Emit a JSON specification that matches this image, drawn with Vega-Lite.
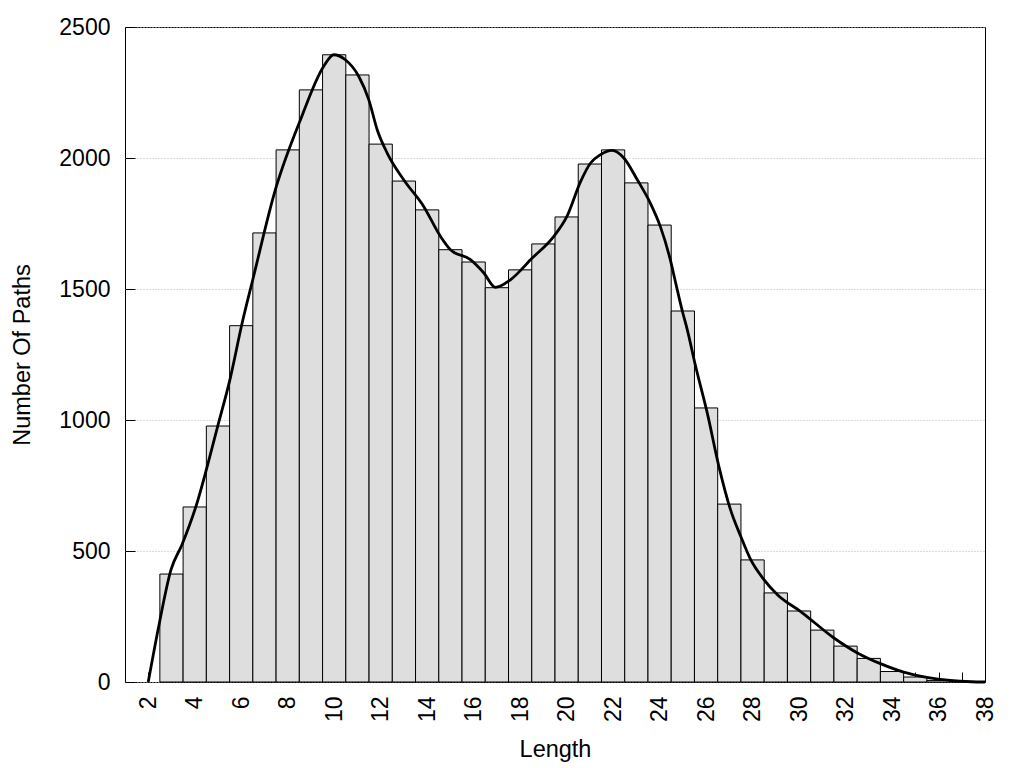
{
  "$schema": "https://vega.github.io/schema/vega-lite/v6.json",
  "width": 860,
  "height": 655,
  "autosize": "none",
  "padding": {"left": 125, "top": 27, "right": 39, "bottom": 86},
  "background": "white",
  "config": {
    "view": {"stroke": "black", "strokeWidth": 1},
    "font": "Liberation Sans",
    "axis": {
      "labelFont": "Liberation Sans",
      "titleFont": "Liberation Sans",
      "labelFontSize": 23,
      "titleFontSize": 23.5,
      "titleFontWeight": "normal",
      "labelColor": "black",
      "titleColor": "black",
      "tickColor": "black",
      "tickSize": -10,
      "domain": false,
      "labelFlush": false,
      "labelOverlap": false
    }
  },
  "datasets": {
    "bars": [
      {"length": 3, "count": 412},
      {"length": 4, "count": 668},
      {"length": 5, "count": 977},
      {"length": 6, "count": 1360},
      {"length": 7, "count": 1714},
      {"length": 8, "count": 2031},
      {"length": 9, "count": 2260},
      {"length": 10, "count": 2394},
      {"length": 11, "count": 2317},
      {"length": 12, "count": 2053},
      {"length": 13, "count": 1912},
      {"length": 14, "count": 1802},
      {"length": 15, "count": 1650},
      {"length": 16, "count": 1603},
      {"length": 17, "count": 1505},
      {"length": 18, "count": 1573},
      {"length": 19, "count": 1672},
      {"length": 20, "count": 1775},
      {"length": 21, "count": 1977},
      {"length": 22, "count": 2031},
      {"length": 23, "count": 1905},
      {"length": 24, "count": 1744},
      {"length": 25, "count": 1416},
      {"length": 26, "count": 1046},
      {"length": 27, "count": 679},
      {"length": 28, "count": 466},
      {"length": 29, "count": 340},
      {"length": 30, "count": 271},
      {"length": 31, "count": 198},
      {"length": 32, "count": 137},
      {"length": 33, "count": 90},
      {"length": 34, "count": 40},
      {"length": 35, "count": 19},
      {"length": 36, "count": 6},
      {"length": 37, "count": 2}
    ],
    "curve": [
      {"length": 2.0, "count": 0},
      {"length": 2.45, "count": 212},
      {"length": 2.98, "count": 429},
      {"length": 3.45, "count": 524},
      {"length": 4.03, "count": 664},
      {"length": 4.99, "count": 977},
      {"length": 5.53, "count": 1160},
      {"length": 6.04, "count": 1370},
      {"length": 6.51, "count": 1540},
      {"length": 7.47, "count": 1879},
      {"length": 8.55, "count": 2146},
      {"length": 9.55, "count": 2350},
      {"length": 9.98, "count": 2394},
      {"length": 10.48, "count": 2375},
      {"length": 11.06, "count": 2311},
      {"length": 11.49, "count": 2222},
      {"length": 11.85, "count": 2108},
      {"length": 12.28, "count": 2019},
      {"length": 12.99, "count": 1917},
      {"length": 13.85, "count": 1815},
      {"length": 14.57, "count": 1701},
      {"length": 15.0, "count": 1650},
      {"length": 15.86, "count": 1612},
      {"length": 16.44, "count": 1561},
      {"length": 16.94, "count": 1506},
      {"length": 17.58, "count": 1535},
      {"length": 18.52, "count": 1618},
      {"length": 19.45, "count": 1701},
      {"length": 20.03, "count": 1780},
      {"length": 20.6, "count": 1910},
      {"length": 21.03, "count": 1981},
      {"length": 21.46, "count": 2013},
      {"length": 21.96, "count": 2029},
      {"length": 22.46, "count": 2000},
      {"length": 23.04, "count": 1917},
      {"length": 23.6, "count": 1828},
      {"length": 24.03, "count": 1739},
      {"length": 24.46, "count": 1612},
      {"length": 24.7, "count": 1520},
      {"length": 24.98, "count": 1415},
      {"length": 25.19, "count": 1345},
      {"length": 25.55, "count": 1205},
      {"length": 26.05, "count": 1027},
      {"length": 26.55, "count": 823},
      {"length": 27.05, "count": 658},
      {"length": 27.49, "count": 556},
      {"length": 27.92, "count": 467},
      {"length": 28.49, "count": 391},
      {"length": 29.07, "count": 333},
      {"length": 30.07, "count": 269},
      {"length": 31.5, "count": 168},
      {"length": 32.51, "count": 111},
      {"length": 33.5, "count": 70},
      {"length": 34.5, "count": 38},
      {"length": 35.5, "count": 18},
      {"length": 36.5, "count": 6},
      {"length": 37.4, "count": 1},
      {"length": 38.0, "count": 0}
    ]
  },
  "layer": [
    {
      "data": {"name": "bars"},
      "transform": [
        {"calculate": "datum.length - 0.5", "as": "lo"},
        {"calculate": "datum.length + 0.5", "as": "hi"}
      ],
      "mark": {"type": "bar", "fill": "#dedede", "stroke": "black", "strokeWidth": 1},
      "encoding": {
        "x": {
          "field": "lo",
          "type": "quantitative",
          "title": "Length",
          "scale": {"domain": [1, 38], "nice": false, "zero": false},
          "axis": {
            "values": [1,2,3,4,5,6,7,8,9,10,11,12,13,14,15,16,17,18,19,20,21,22,23,24,25,26,27,28,29,30,31,32,33,34,35,36,37,38],
            "labelExpr": "datum.value % 2 == 0 ? datum.label : ''",
            "labelAngle": -90,
            "labelPadding": 24,
            "titlePadding": 16,
            "grid": false
          }
        },
        "x2": {"field": "hi"},
        "y": {
          "field": "count",
          "type": "quantitative",
          "title": "Number Of Paths",
          "scale": {"domain": [0, 2500], "nice": false},
          "axis": {
            "values": [0, 500, 1000, 1500, 2000, 2500],
            "format": "d",
            "labelPadding": 25,
            "titlePadding": 24,
            "grid": true,
            "gridColor": "#bbbbbb",
            "gridDash": [1, 2],
            "gridWidth": 1
          }
        },
        "y2": {"datum": 0}
      }
    },
    {
      "data": {"name": "curve"},
      "mark": {"type": "line", "interpolate": "monotone", "color": "black", "strokeWidth": 2.8},
      "encoding": {
        "x": {
          "field": "length",
          "type": "quantitative",
          "title": "Length",
          "scale": {"domain": [1, 38], "nice": false, "zero": false},
          "axis": {
            "values": [1,2,3,4,5,6,7,8,9,10,11,12,13,14,15,16,17,18,19,20,21,22,23,24,25,26,27,28,29,30,31,32,33,34,35,36,37,38],
            "labelExpr": "datum.value % 2 == 0 ? datum.label : ''",
            "labelAngle": -90,
            "labelPadding": 24,
            "titlePadding": 16,
            "grid": false
          }
        },
        "y": {
          "field": "count",
          "type": "quantitative",
          "title": "Number Of Paths",
          "scale": {"domain": [0, 2500], "nice": false},
          "axis": {
            "values": [0, 500, 1000, 1500, 2000, 2500],
            "format": "d",
            "labelPadding": 25,
            "titlePadding": 24,
            "grid": true,
            "gridColor": "#bbbbbb",
            "gridDash": [1, 2],
            "gridWidth": 1
          }
        }
      }
    }
  ]
}
